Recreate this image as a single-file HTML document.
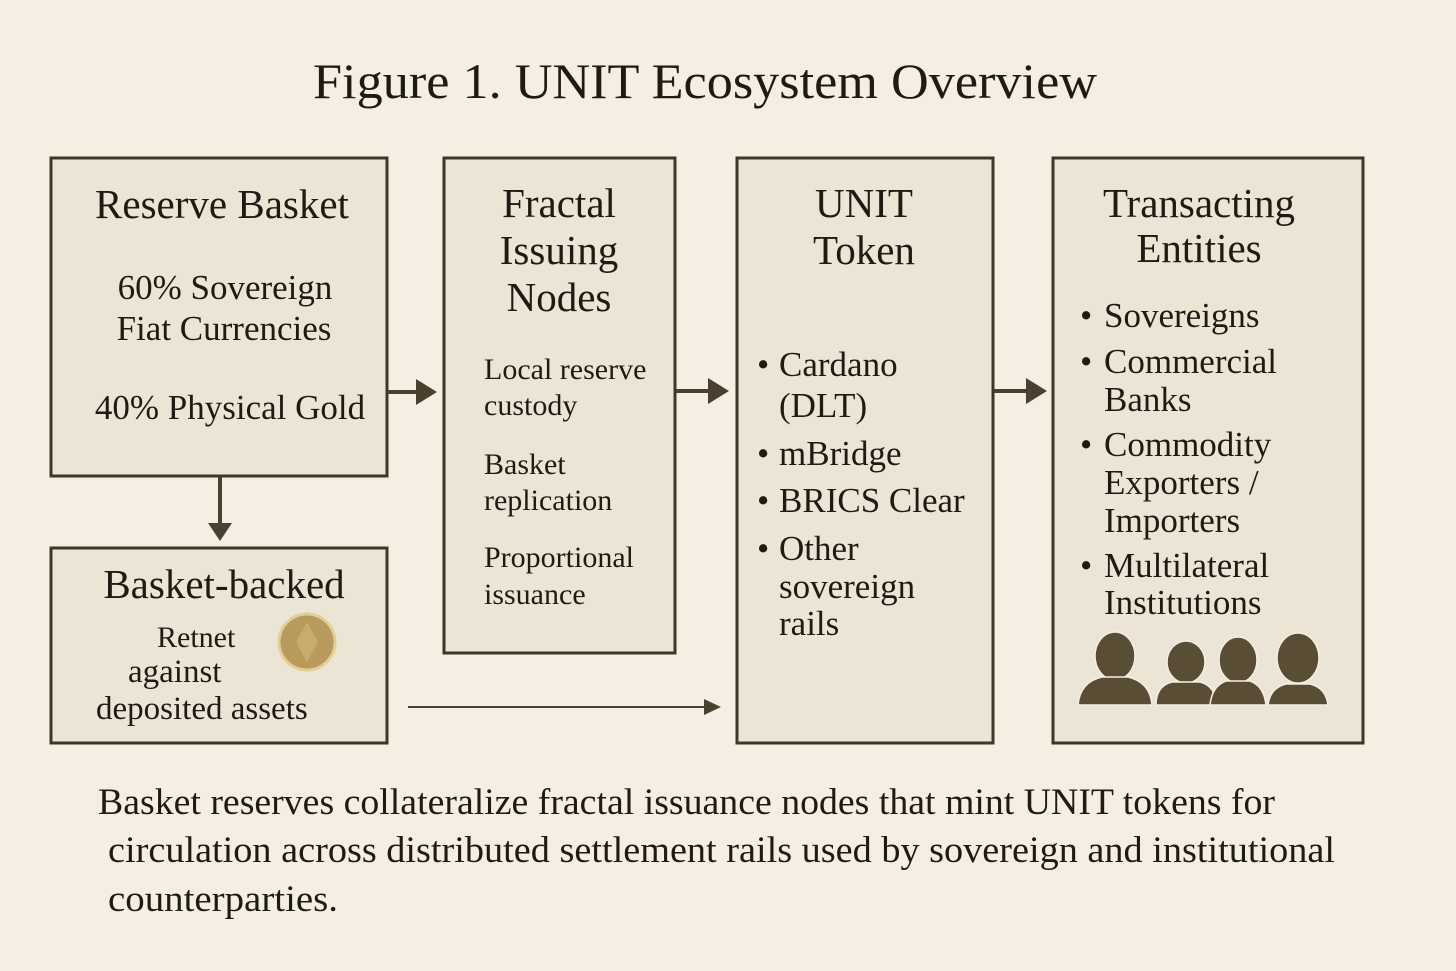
<!DOCTYPE html>
<html><head><meta charset="utf-8"><style>
html,body{margin:0;padding:0;background:#f5efe3;}
svg{display:block}
text{font-family:"Liberation Serif",serif;fill:#1e1a14}
</style></head><body>
<svg width="1456" height="971" viewBox="0 0 1456 971" xmlns="http://www.w3.org/2000/svg">
<rect width="1456" height="971" fill="#f5efe3"/>
<text x="313" y="98" font-size="50" textLength="784" lengthAdjust="spacingAndGlyphs">Figure 1. UNIT Ecosystem Overview</text>
<g fill="#ece4d4" stroke="#3f3726" stroke-width="3">
<rect x="51" y="158" width="336" height="318"/>
<rect x="51" y="548" width="336" height="195"/>
<rect x="444" y="158" width="231" height="495"/>
<rect x="737" y="158" width="256" height="585"/>
<rect x="1053" y="158" width="310" height="585"/>
</g>
<g stroke="#4a4030" stroke-width="4" fill="#4a4030">
<line x1="388" y1="392" x2="418" y2="392"/><polygon points="416,379 437,392 416,405" stroke="none"/>
<line x1="676" y1="391" x2="710" y2="391"/><polygon points="708,378 729,391 708,404" stroke="none"/>
<line x1="994" y1="391" x2="1028" y2="391"/><polygon points="1026,378 1047,391 1026,404" stroke="none"/>
<line x1="220" y1="477" x2="220" y2="525"/><polygon points="208,523 220,541 232,523" stroke="none"/>
</g>
<line x1="408" y1="707" x2="708" y2="707" stroke="#4a4030" stroke-width="2"/>
<polygon points="704,699 721,707 704,715" fill="#4a4030"/>
<g font-size="41" text-anchor="middle">
<text x="222" y="218">Reserve Basket</text>
<text x="559" y="217">Fractal</text><text x="559" y="264">Issuing</text><text x="559" y="311">Nodes</text>
<text x="864" y="217">UNIT</text><text x="864" y="264">Token</text>
<text x="1199" y="217">Transacting</text><text x="1199" y="262">Entities</text>
<text x="224" y="598">Basket-backed</text>
</g>
<g font-size="35">
<text x="225" y="299" text-anchor="middle">60% Sovereign</text>
<text x="224" y="340" text-anchor="middle">Fiat Currencies</text>
<text x="230" y="419" text-anchor="middle">40% Physical Gold</text>
<text x="484" y="379" font-size="30">Local reserve</text>
<text x="484" y="415" font-size="30">custody</text>
<text x="484" y="474" font-size="30">Basket</text>
<text x="484" y="510" font-size="30">replication</text>
<text x="484" y="567" font-size="30">Proportional</text>
<text x="484" y="604" font-size="30">issuance</text>
<text x="757" y="376">•</text><text x="779" y="376">Cardano</text>
<text x="779" y="417">(DLT)</text>
<text x="757" y="465">•</text><text x="779" y="465">mBridge</text>
<text x="757" y="512">•</text><text x="779" y="512">BRICS Clear</text>
<text x="757" y="560">•</text><text x="779" y="560">Other</text>
<text x="779" y="598">sovereign</text>
<text x="779" y="635">rails</text>
<text x="1080" y="327">•</text><text x="1104" y="327">Sovereigns</text>
<text x="1080" y="373">•</text><text x="1104" y="373">Commercial</text>
<text x="1104" y="411">Banks</text>
<text x="1080" y="456">•</text><text x="1104" y="456">Commodity</text>
<text x="1104" y="494">Exporters /</text>
<text x="1104" y="532">Importers</text>
<text x="1080" y="577">•</text><text x="1104" y="577">Multilateral</text>
<text x="1104" y="614">Institutions</text>
<text x="157" y="647" font-size="30" fill="#3a342a">Retnet</text>
<text x="128" y="682" font-size="33">against</text>
<text x="96" y="719" font-size="33">deposited assets</text>
</g>
<circle cx="307" cy="642" r="28" fill="#b89a5c" stroke="#e3cf94" stroke-width="3"/>
<polygon points="307,622 318,642 307,662 296,642" fill="#c9ab70"/>
<g fill="#5a4d36" stroke="#f5efe3" stroke-width="1.5">
<g transform="translate(1078,0)"><ellipse cx="37" cy="656" rx="20" ry="24"/><path d="M0 705 Q2 682 24 677 L50 677 Q72 682 74 705Z"/></g>
<g transform="translate(1156,0)"><ellipse cx="30" cy="662" rx="19" ry="21"/><path d="M0 705 Q0 686 16 682 L44 682 Q60 686 60 705Z"/></g>
<g transform="translate(1210,0)"><ellipse cx="28" cy="660" rx="19" ry="23"/><path d="M0 705 Q2 686 16 681 L40 681 Q54 686 56 705Z"/></g>
<g transform="translate(1268,0)"><ellipse cx="30" cy="658" rx="21" ry="25"/><path d="M0 705 Q2 688 18 684 L42 684 Q58 688 60 705Z"/></g>
</g>
<g font-size="37">
<text x="98" y="814" textLength="1177" lengthAdjust="spacingAndGlyphs">Basket reserves collateralize fractal issuance nodes that mint UNIT tokens for</text>
<text x="108" y="862" textLength="1227" lengthAdjust="spacingAndGlyphs">circulation across distributed settlement rails used by sovereign and institutional</text>
<text x="108" y="911" textLength="230" lengthAdjust="spacingAndGlyphs">counterparties.</text>
</g>
</svg>
</body></html>
